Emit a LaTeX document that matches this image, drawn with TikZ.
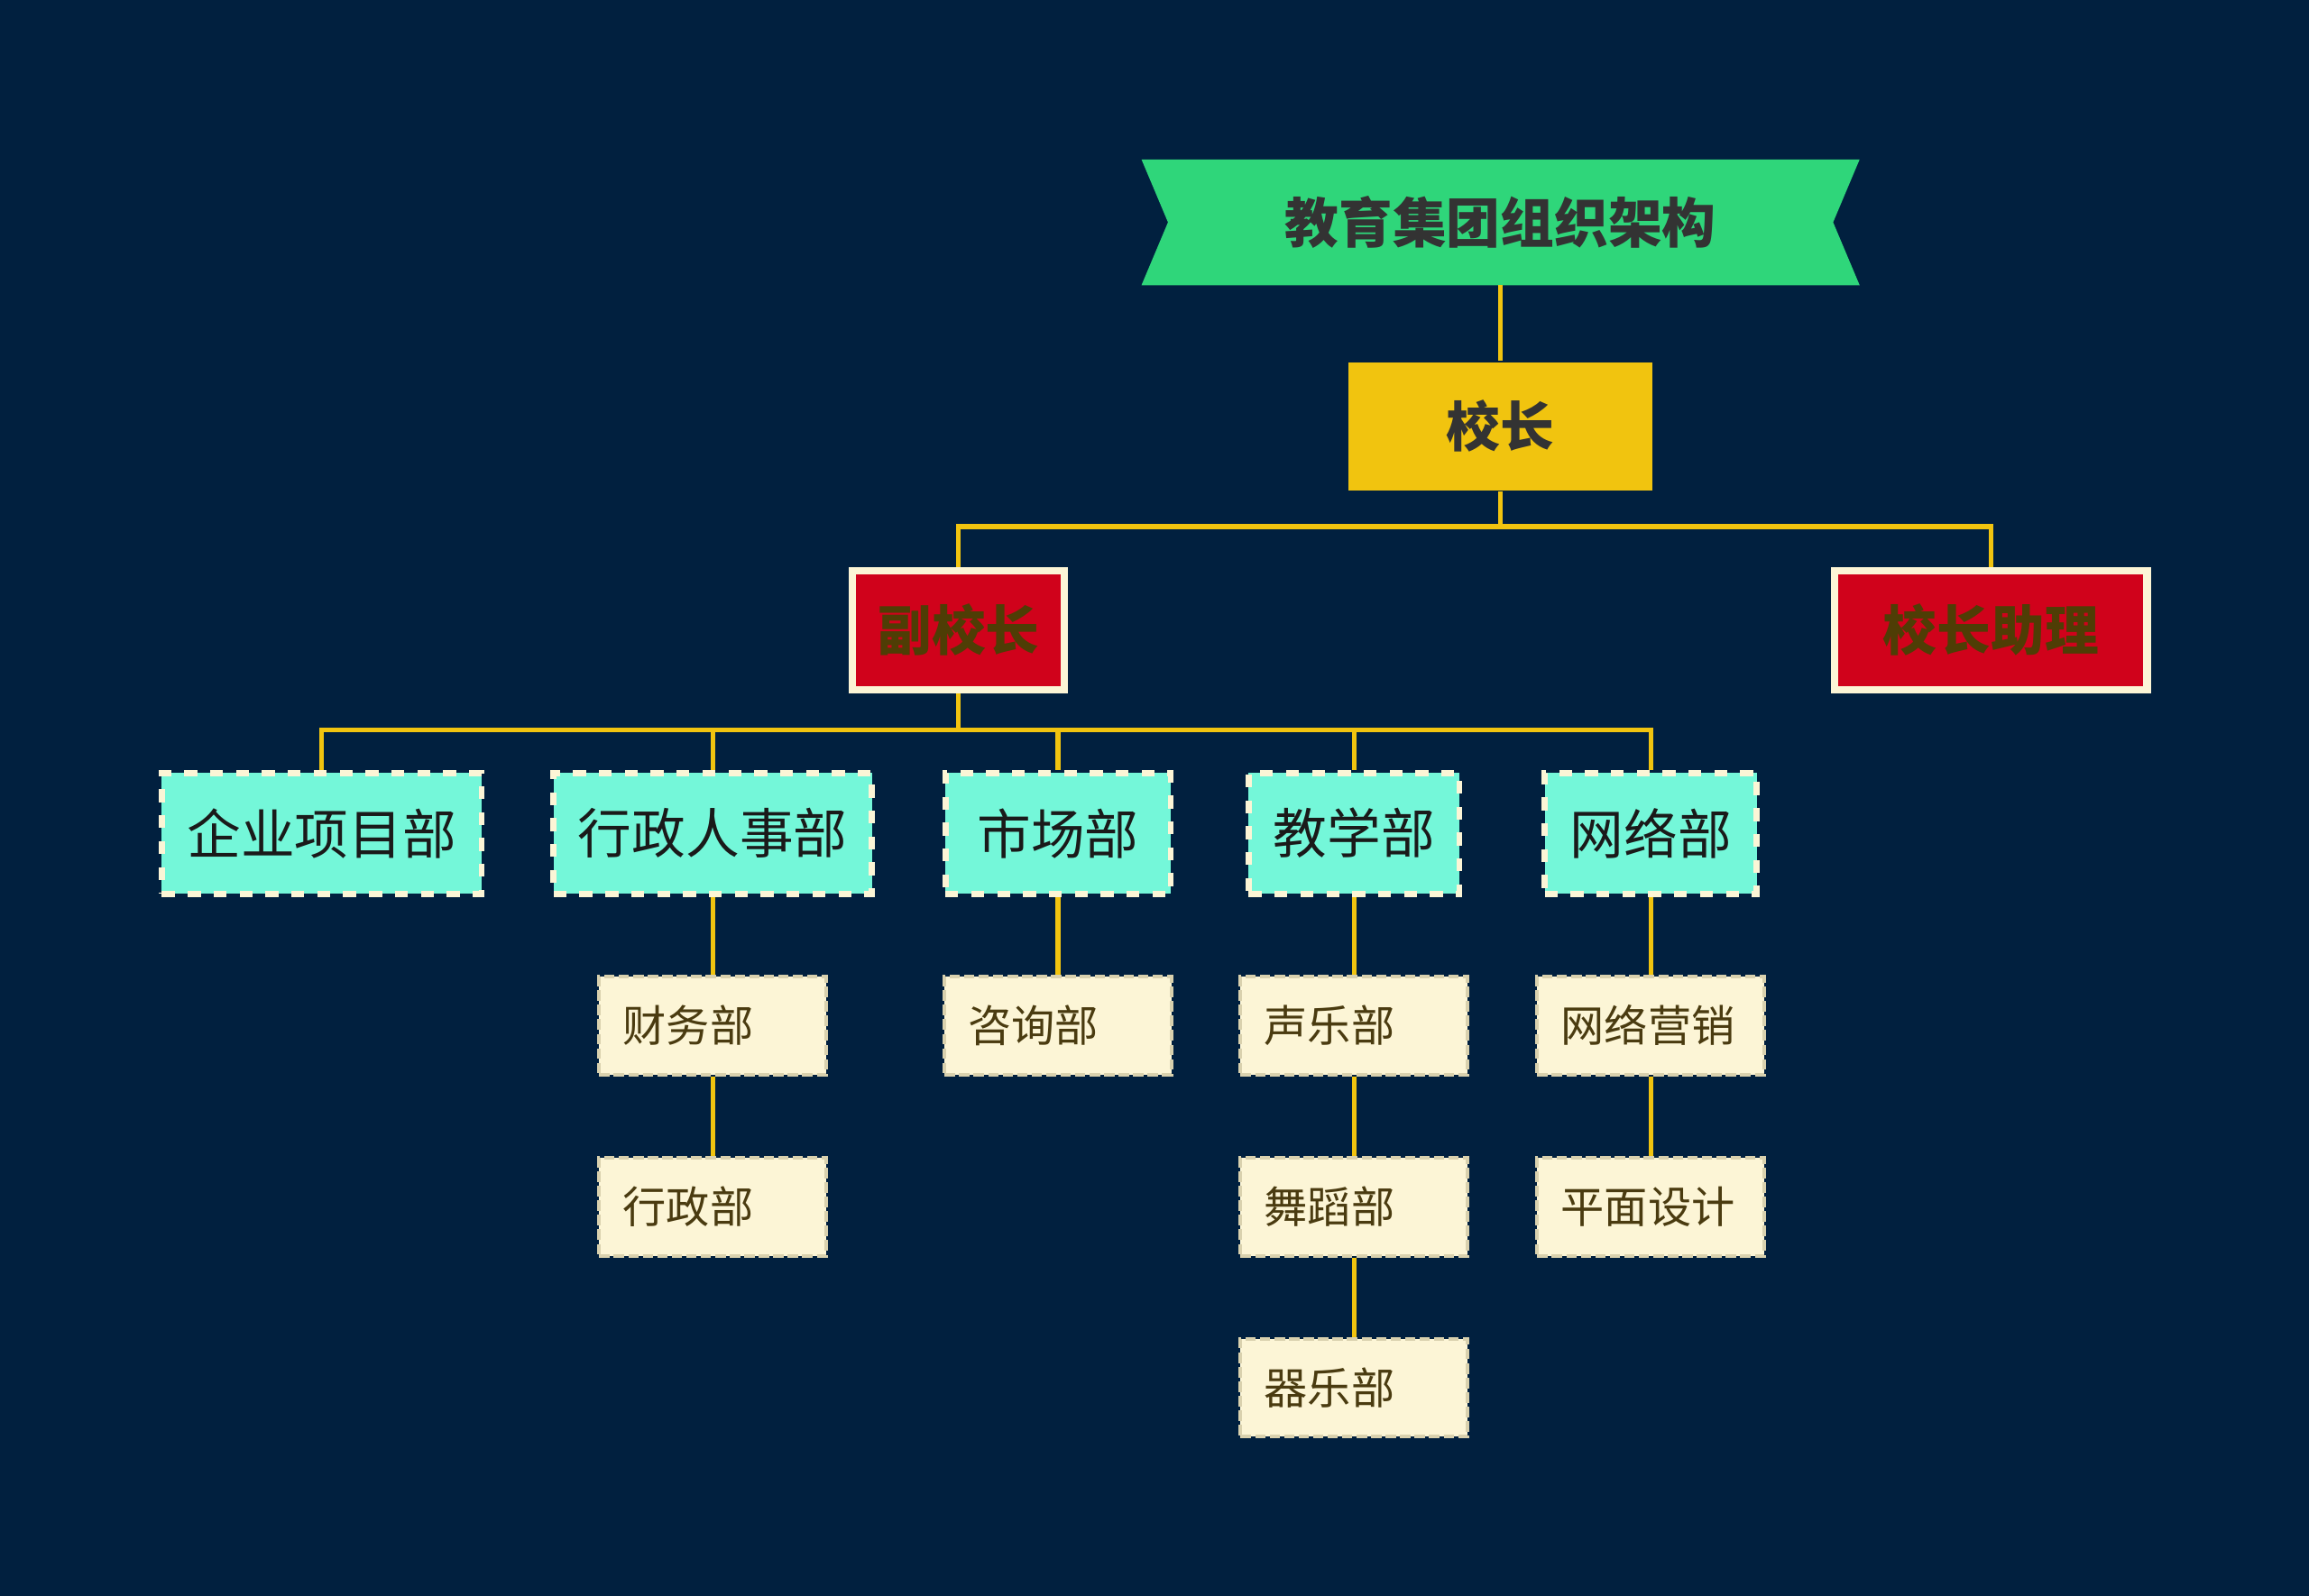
\documentclass[tikz,border=0pt]{standalone}
\usepackage{fontspec}
\newfontfamily\cjk{Noto Sans CJK SC}
\usepackage{tikz}
\usetikzlibrary{positioning,backgrounds,calc}
\definecolor{navy}{HTML}{01203F}
\definecolor{banner}{HTML}{2FD67A}
\definecolor{gold}{HTML}{F1C40F}
\definecolor{crimson}{HTML}{D0021B}
\definecolor{cream}{HTML}{FCF5D6}
\definecolor{creamedge}{HTML}{D9D1AE}
\definecolor{mint}{HTML}{74F7D9}
\definecolor{ink}{HTML}{333333}
\definecolor{deptink}{HTML}{1A1A1A}
\definecolor{oliveink}{HTML}{4F3D05}
\definecolor{brownink}{HTML}{4A3B10}
\newcommand{\bigtext}{\cjk\fontsize{10.4pt}{12pt}\selectfont}
\newcommand{\smalltext}{\cjk\fontsize{8.4pt}{10pt}\selectfont}
\tikzset{
  link/.style={draw=gold, line width=0.9pt},
  titlebox/.style={minimum width=4.86cm, minimum height=0.84cm, font=\bigtext\bfseries, text=ink},
  headbox/.style={fill=gold, minimum width=2.06cm, minimum height=0.87cm, font=\bigtext\bfseries, text=ink},
  vicebox/.style={fill=crimson, draw=cream, line width=1.4pt, minimum width=#1, minimum height=0.81cm,
                  font=\bigtext\bfseries, text=oliveink},
  dept/.style={fill=mint, draw=cream, line width=1.2pt, dash pattern=on 2.5pt off 2.5pt,
               minimum width=#1, minimum height=0.82cm, font=\bigtext, text=deptink},
  unit/.style={fill=cream, draw=creamedge, line width=0.7pt, dash pattern=on 2pt off 0.8pt,
               minimum height=0.665cm, text width=1.22cm, inner xsep=0.16cm, align=left,
               font=\smalltext, text=brownink},
}
\begin{document}
\begin{tikzpicture}[x=0.01cm, y=-0.01cm]
  \useasboundingbox (0,0) rectangle (1568,1084);
  % top levels
  \node[titlebox] (title) at (1019,151) {教育集团组织架构};
  \node[headbox] (head) at (1019,289.5) {校长};
  \node[vicebox=1.44cm] (vice) at (651,428) {副校长};
  \node[vicebox=2.12cm] (asst) at (1352,428) {校长助理};
  % departments
  \node[dept=2.17cm] (proj) at (218.5,566) {企业项目部};
  \node[dept=2.16cm] (hr) at (484,566) {行政人事部};
  \node[dept=1.53cm] (mkt) at (718.5,566) {市场部};
  \node[dept=1.43cm] (edu) at (919.5,566) {教学部};
  \node[dept=1.44cm] (net) at (1121,566) {网络部};
  % sub units
  \node[unit, below=0.53cm of hr] (fin) {财务部};
  \node[unit, below=0.54cm of fin] (admin) {行政部};
  \node[unit, below=0.53cm of mkt] (consult) {咨询部};
  \node[unit, below=0.53cm of edu] (vocal) {声乐部};
  \node[unit, below=0.54cm of vocal] (dance) {舞蹈部};
  \node[unit, below=0.54cm of dance] (instr) {器乐部};
  \node[unit, below=0.53cm of net] (web) {网络营销};
  \node[unit, below=0.54cm of web] (design) {平面设计};
  % connectors
  \draw[link] (title) -- (head);
  \coordinate (hbus) at ($(head.south)+(0,24)$);
  \draw[link] (head.south) -- (hbus) -| (vice.north);
  \draw[link] (hbus) -| (asst.north);
  \coordinate (vbus) at ($(vice.south)+(0,25)$);
  \draw[link] (vice.south) -- (vbus);
  \foreach \d in {proj,hr,mkt,edu,net}
    \draw[link] (vbus) -| (\d.north);
  \draw[link] (hr) -- (fin) -- (admin);
  \draw[link] (mkt) -- (consult);
  \draw[link] (edu) -- (vocal) -- (dance) -- (instr);
  \draw[link] (net) -- (web) -- (design);
  % background and banner
  \begin{scope}[on background layer]
    \fill[navy] (0,0) rectangle (1568,1084);
    \fill[banner] (title.north west) -- (title.north east) -- ($(title.east)+(-18,0)$)
      -- (title.south east) -- (title.south west) -- ($(title.west)+(18,0)$) -- cycle;
  \end{scope}
\end{tikzpicture}
\end{document}
